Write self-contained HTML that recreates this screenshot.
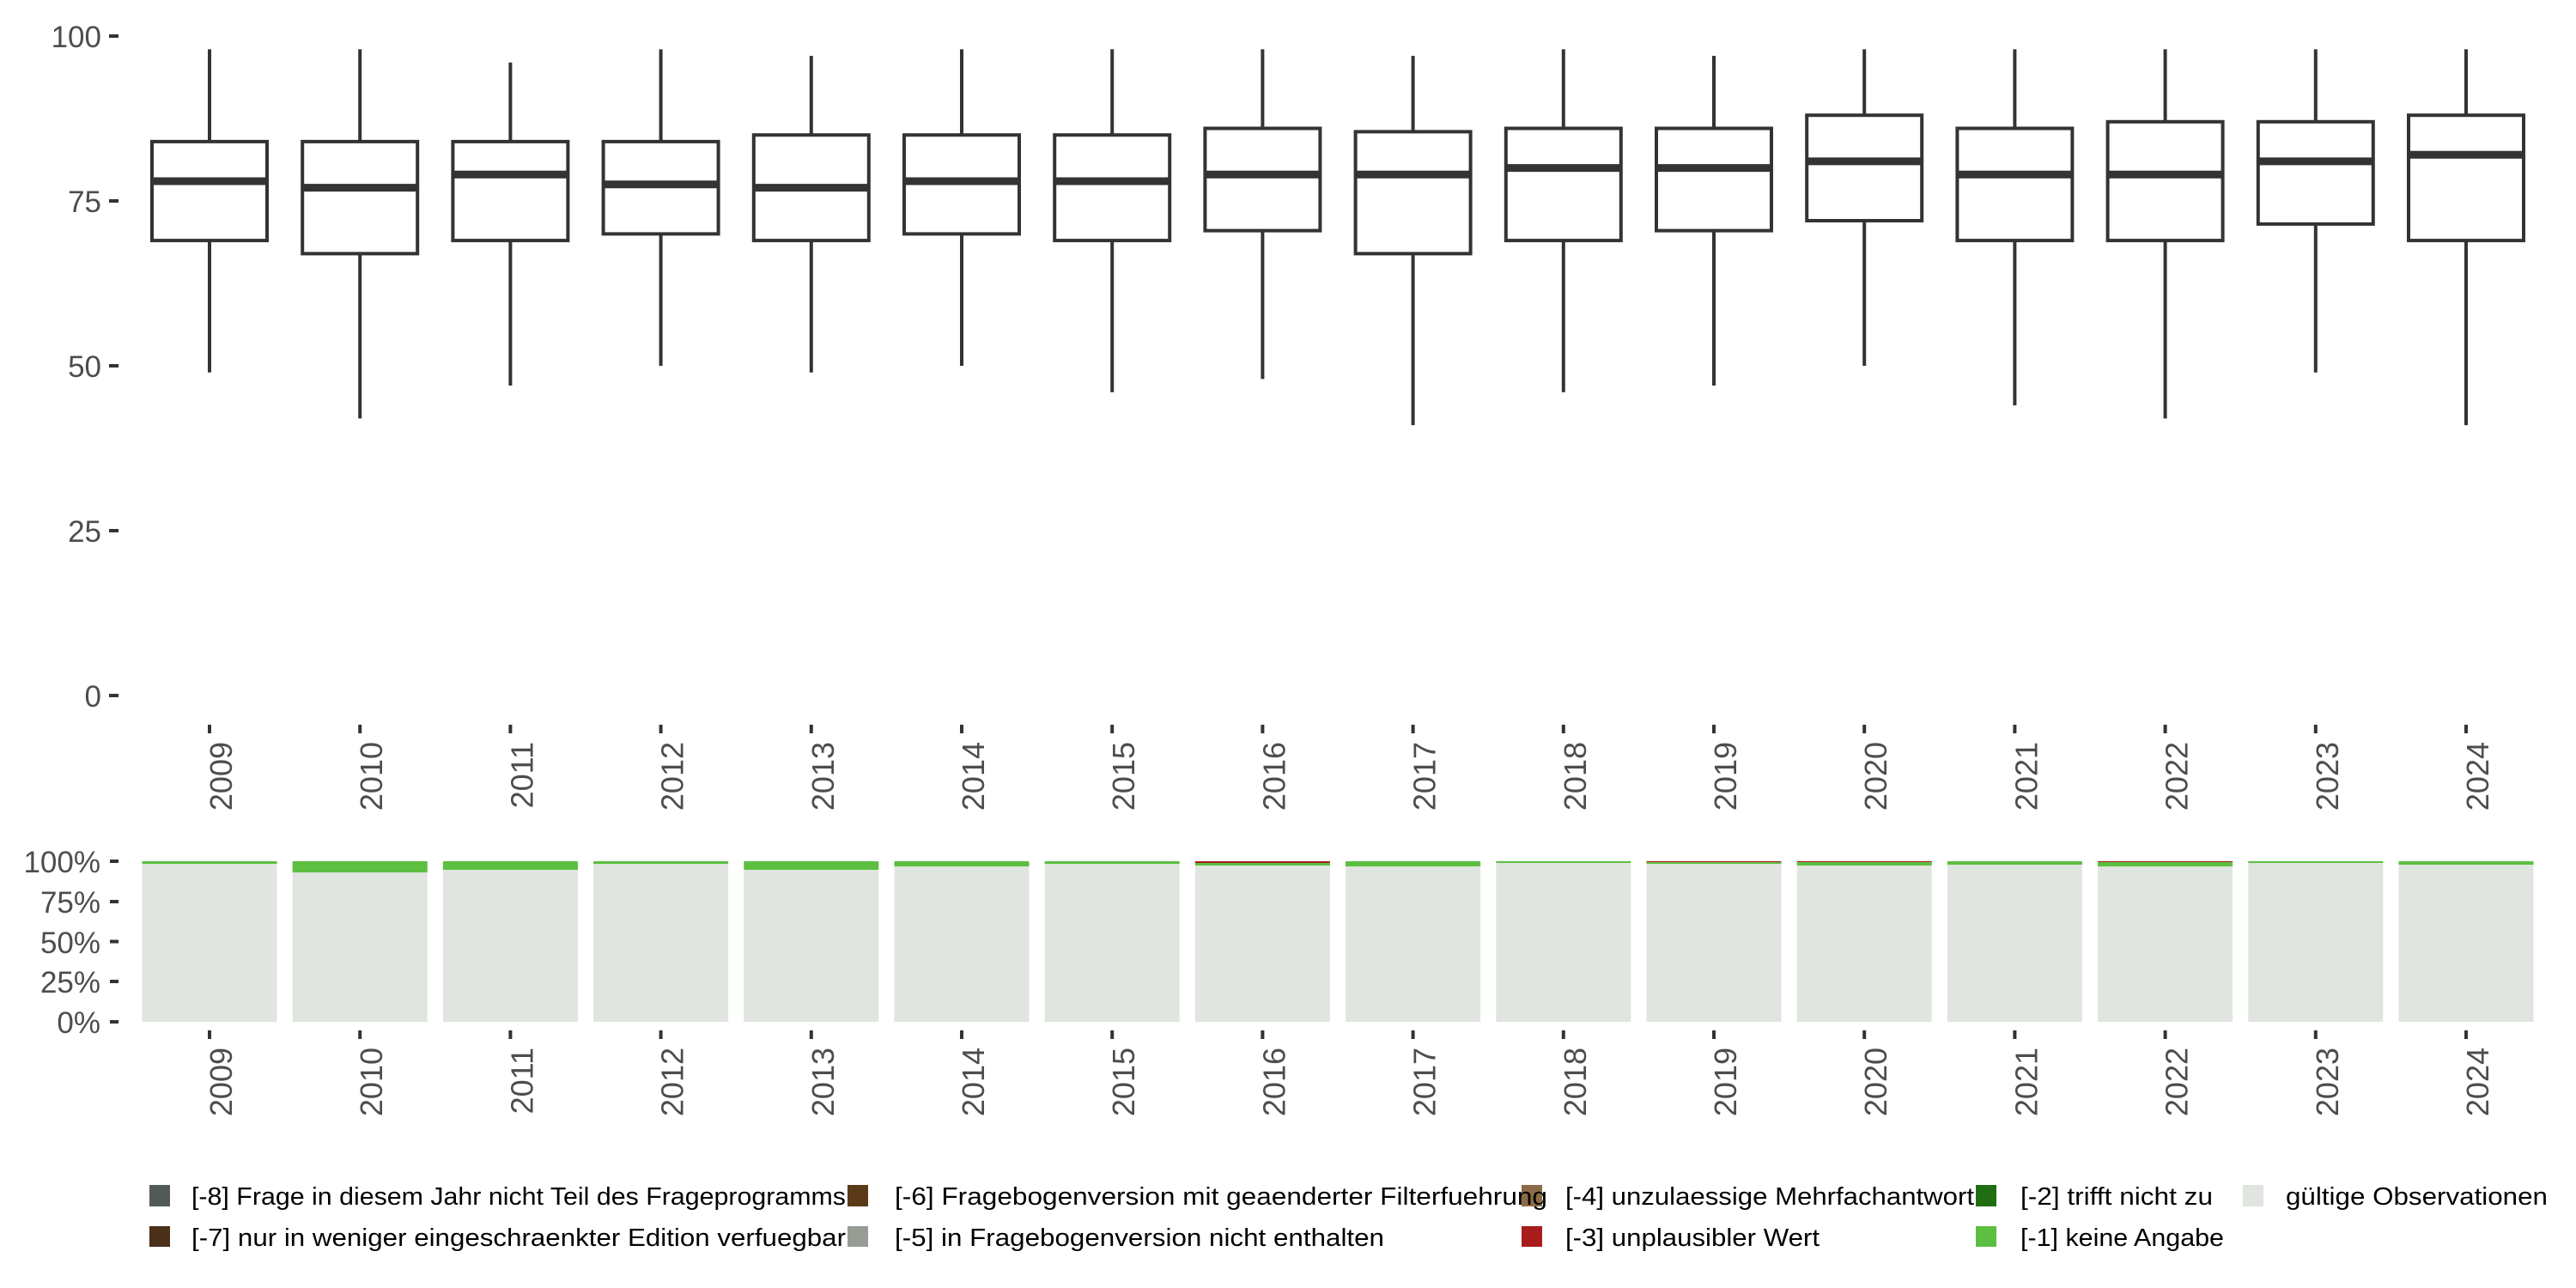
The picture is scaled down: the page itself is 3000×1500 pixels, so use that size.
<!DOCTYPE html>
<html><head><meta charset="utf-8"><style>html,body{margin:0;padding:0;background:#fff}svg{display:block}</style></head>
<body>
<svg width="3000" height="1500" viewBox="0 0 3000 1500" xmlns="http://www.w3.org/2000/svg" font-family="Liberation Sans, sans-serif">
<rect width="3000" height="1500" fill="#fff"/>
<!-- top y axis -->
<g fill="#4d4d4d" font-size="35" text-anchor="end">
<text x="118" y="55">100</text><text x="118" y="247">75</text><text x="118" y="439">50</text><text x="118" y="631">25</text><text x="118" y="823">0</text>
</g>
<g stroke="#333" stroke-width="4">
<line x1="127" x2="138" y1="42" y2="42"/><line x1="127" x2="138" y1="234" y2="234"/><line x1="127" x2="138" y1="426" y2="426"/><line x1="127" x2="138" y1="618" y2="618"/><line x1="127" x2="138" y1="810" y2="810"/>
</g>
<!-- boxes -->
<g stroke="#333" stroke-width="4" fill="#fff">
<line x1="244" x2="244" y1="57.4" y2="433.7"/><rect x="177" y="164.9" width="134" height="115.2"/><line x1="177" x2="311" y1="211" y2="211" stroke-width="9"/>
<line x1="419.2" x2="419.2" y1="57.4" y2="487.4"/><rect x="352.2" y="164.9" width="134" height="130.5"/><line x1="352.2" x2="486.2" y1="218.6" y2="218.6" stroke-width="9"/>
<line x1="594.4" x2="594.4" y1="72.7" y2="449"/><rect x="527.4" y="164.9" width="134" height="115.2"/><line x1="527.4" x2="661.4" y1="203.3" y2="203.3" stroke-width="9"/>
<line x1="769.6" x2="769.6" y1="57.4" y2="426"/><rect x="702.6" y="164.9" width="134" height="107.5"/><line x1="702.6" x2="836.6" y1="214.8" y2="214.8" stroke-width="9"/>
<line x1="944.8" x2="944.8" y1="65" y2="433.7"/><rect x="877.8" y="157.2" width="134" height="122.9"/><line x1="877.8" x2="1011.8" y1="218.6" y2="218.6" stroke-width="9"/>
<line x1="1120" x2="1120" y1="57.4" y2="426"/><rect x="1053" y="157.2" width="134" height="115.2"/><line x1="1053" x2="1187" y1="211" y2="211" stroke-width="9"/>
<line x1="1295.2" x2="1295.2" y1="57.4" y2="456.7"/><rect x="1228.2" y="157.2" width="134" height="122.9"/><line x1="1228.2" x2="1362.2" y1="211" y2="211" stroke-width="9"/>
<line x1="1470.4" x2="1470.4" y1="57.4" y2="441.4"/><rect x="1403.4" y="149.5" width="134" height="119.1"/><line x1="1403.4" x2="1537.4" y1="203.3" y2="203.3" stroke-width="9"/>
<line x1="1645.6" x2="1645.6" y1="65" y2="495.1"/><rect x="1578.6" y="153.4" width="134" height="142"/><line x1="1578.6" x2="1712.6" y1="203.3" y2="203.3" stroke-width="9"/>
<line x1="1820.8" x2="1820.8" y1="57.4" y2="456.7"/><rect x="1753.8" y="149.5" width="134" height="130.6"/><line x1="1753.8" x2="1887.8" y1="195.6" y2="195.6" stroke-width="9"/>
<line x1="1996" x2="1996" y1="65" y2="449"/><rect x="1929" y="149.5" width="134" height="119.1"/><line x1="1929" x2="2063" y1="195.6" y2="195.6" stroke-width="9"/>
<line x1="2171.2" x2="2171.2" y1="57.4" y2="426"/><rect x="2104.2" y="134.2" width="134" height="122.8"/><line x1="2104.2" x2="2238.2" y1="187.9" y2="187.9" stroke-width="9"/>
<line x1="2346.4" x2="2346.4" y1="57.4" y2="472.1"/><rect x="2279.4" y="149.5" width="134" height="130.6"/><line x1="2279.4" x2="2413.4" y1="203.3" y2="203.3" stroke-width="9"/>
<line x1="2521.6" x2="2521.6" y1="57.4" y2="487.4"/><rect x="2454.6" y="141.8" width="134" height="138.3"/><line x1="2454.6" x2="2588.6" y1="203.3" y2="203.3" stroke-width="9"/>
<line x1="2696.8" x2="2696.8" y1="57.4" y2="433.7"/><rect x="2629.8" y="141.8" width="134" height="119.1"/><line x1="2629.8" x2="2763.8" y1="187.9" y2="187.9" stroke-width="9"/>
<line x1="2872" x2="2872" y1="57.4" y2="495.1"/><rect x="2805" y="134.2" width="134" height="145.9"/><line x1="2805" x2="2939" y1="180.2" y2="180.2" stroke-width="9"/>
</g>
<!-- top x ticks -->
<g stroke="#333" stroke-width="4">
<line x1="244" x2="244" y1="844" y2="854"/><line x1="419.2" x2="419.2" y1="844" y2="854"/><line x1="594.4" x2="594.4" y1="844" y2="854"/><line x1="769.6" x2="769.6" y1="844" y2="854"/><line x1="944.8" x2="944.8" y1="844" y2="854"/><line x1="1120" x2="1120" y1="844" y2="854"/><line x1="1295.2" x2="1295.2" y1="844" y2="854"/><line x1="1470.4" x2="1470.4" y1="844" y2="854"/><line x1="1645.6" x2="1645.6" y1="844" y2="854"/><line x1="1820.8" x2="1820.8" y1="844" y2="854"/><line x1="1996" x2="1996" y1="844" y2="854"/><line x1="2171.2" x2="2171.2" y1="844" y2="854"/><line x1="2346.4" x2="2346.4" y1="844" y2="854"/><line x1="2521.6" x2="2521.6" y1="844" y2="854"/><line x1="2696.8" x2="2696.8" y1="844" y2="854"/><line x1="2872" x2="2872" y1="844" y2="854"/>
</g>
<g fill="#4d4d4d" font-size="36" text-anchor="end">
<text transform="translate(270,864) rotate(-90)">2009</text>
<text transform="translate(445.2,864) rotate(-90)">2010</text>
<text transform="translate(620.4,864) rotate(-90)">2011</text>
<text transform="translate(795.6,864) rotate(-90)">2012</text>
<text transform="translate(970.8,864) rotate(-90)">2013</text>
<text transform="translate(1146,864) rotate(-90)">2014</text>
<text transform="translate(1321.2,864) rotate(-90)">2015</text>
<text transform="translate(1496.4,864) rotate(-90)">2016</text>
<text transform="translate(1671.6,864) rotate(-90)">2017</text>
<text transform="translate(1846.8,864) rotate(-90)">2018</text>
<text transform="translate(2022,864) rotate(-90)">2019</text>
<text transform="translate(2197.2,864) rotate(-90)">2020</text>
<text transform="translate(2372.4,864) rotate(-90)">2021</text>
<text transform="translate(2547.6,864) rotate(-90)">2022</text>
<text transform="translate(2722.8,864) rotate(-90)">2023</text>
<text transform="translate(2898,864) rotate(-90)">2024</text>
</g>
<!-- bottom y axis -->
<g fill="#4d4d4d" font-size="35" text-anchor="end">
<text x="117" y="1016">100%</text><text x="117" y="1063">75%</text><text x="117" y="1110">50%</text><text x="117" y="1156">25%</text><text x="117" y="1203">0%</text>
</g>
<g stroke="#333" stroke-width="4">
<line x1="128" x2="138" y1="1003" y2="1003"/><line x1="128" x2="138" y1="1050" y2="1050"/><line x1="128" x2="138" y1="1096.5" y2="1096.5"/><line x1="128" x2="138" y1="1143" y2="1143"/><line x1="128" x2="138" y1="1190" y2="1190"/>
</g>
<!-- bars -->
<g fill="#e0e5df">
<rect x="165.5" y="1003" width="157" height="187"/><rect x="340.7" y="1003" width="157" height="187"/><rect x="515.9" y="1003" width="157" height="187"/><rect x="691.1" y="1003" width="157" height="187"/><rect x="866.3" y="1003" width="157" height="187"/><rect x="1041.5" y="1003" width="157" height="187"/><rect x="1216.7" y="1003" width="157" height="187"/><rect x="1391.9" y="1003" width="157" height="187"/><rect x="1567.1" y="1003" width="157" height="187"/><rect x="1742.3" y="1003" width="157" height="187"/><rect x="1917.5" y="1003" width="157" height="187"/><rect x="2092.7" y="1003" width="157" height="187"/><rect x="2267.9" y="1003" width="157" height="187"/><rect x="2443.1" y="1003" width="157" height="187"/><rect x="2618.3" y="1003" width="157" height="187"/><rect x="2793.5" y="1003" width="157" height="187"/>
</g>
<g fill="#5cbf41">
<rect x="165.5" y="1003" width="157" height="3"/><rect x="340.7" y="1003" width="157" height="13"/><rect x="515.9" y="1003" width="157" height="10"/><rect x="691.1" y="1003" width="157" height="3"/><rect x="866.3" y="1003" width="157" height="10"/><rect x="1041.5" y="1003" width="157" height="6"/><rect x="1216.7" y="1003" width="157" height="3"/><rect x="1391.9" y="1003" width="157" height="5"/><rect x="1567.1" y="1003" width="157" height="6"/><rect x="1742.3" y="1003" width="157" height="2"/><rect x="1917.5" y="1003" width="157" height="3"/><rect x="2092.7" y="1003" width="157" height="5"/><rect x="2267.9" y="1003" width="157" height="4"/><rect x="2443.1" y="1003" width="157" height="6"/><rect x="2618.3" y="1003" width="157" height="2"/><rect x="2793.5" y="1003" width="157" height="4"/>
</g>
<g fill="#a81c1c">
<rect x="1391.9" y="1003" width="157" height="2"/><rect x="1917.5" y="1003" width="157" height="1"/><rect x="2092.7" y="1003" width="157" height="1"/><rect x="2443.1" y="1003" width="157" height="1"/>
</g>
<g stroke="#333" stroke-width="4">
<line x1="244" x2="244" y1="1200" y2="1210"/><line x1="419.2" x2="419.2" y1="1200" y2="1210"/><line x1="594.4" x2="594.4" y1="1200" y2="1210"/><line x1="769.6" x2="769.6" y1="1200" y2="1210"/><line x1="944.8" x2="944.8" y1="1200" y2="1210"/><line x1="1120" x2="1120" y1="1200" y2="1210"/><line x1="1295.2" x2="1295.2" y1="1200" y2="1210"/><line x1="1470.4" x2="1470.4" y1="1200" y2="1210"/><line x1="1645.6" x2="1645.6" y1="1200" y2="1210"/><line x1="1820.8" x2="1820.8" y1="1200" y2="1210"/><line x1="1996" x2="1996" y1="1200" y2="1210"/><line x1="2171.2" x2="2171.2" y1="1200" y2="1210"/><line x1="2346.4" x2="2346.4" y1="1200" y2="1210"/><line x1="2521.6" x2="2521.6" y1="1200" y2="1210"/><line x1="2696.8" x2="2696.8" y1="1200" y2="1210"/><line x1="2872" x2="2872" y1="1200" y2="1210"/>
</g>
<g fill="#4d4d4d" font-size="36" text-anchor="end">
<text transform="translate(270,1220) rotate(-90)">2009</text>
<text transform="translate(445.2,1220) rotate(-90)">2010</text>
<text transform="translate(620.4,1220) rotate(-90)">2011</text>
<text transform="translate(795.6,1220) rotate(-90)">2012</text>
<text transform="translate(970.8,1220) rotate(-90)">2013</text>
<text transform="translate(1146,1220) rotate(-90)">2014</text>
<text transform="translate(1321.2,1220) rotate(-90)">2015</text>
<text transform="translate(1496.4,1220) rotate(-90)">2016</text>
<text transform="translate(1671.6,1220) rotate(-90)">2017</text>
<text transform="translate(1846.8,1220) rotate(-90)">2018</text>
<text transform="translate(2022,1220) rotate(-90)">2019</text>
<text transform="translate(2197.2,1220) rotate(-90)">2020</text>
<text transform="translate(2372.4,1220) rotate(-90)">2021</text>
<text transform="translate(2547.6,1220) rotate(-90)">2022</text>
<text transform="translate(2722.8,1220) rotate(-90)">2023</text>
<text transform="translate(2898,1220) rotate(-90)">2024</text>
</g>
<!-- legend -->
<rect x="174" y="1380" width="24" height="25" fill="#525a55"/>
<rect x="174" y="1428" width="24" height="24" fill="#4a2f19"/>
<rect x="987" y="1380" width="24" height="25" fill="#5b3a19"/>
<rect x="987" y="1428" width="24" height="24" fill="#979c95"/>
<rect x="1772" y="1380" width="24" height="25" fill="#8c6b48"/>
<rect x="1772" y="1428" width="24" height="24" fill="#a81c1c"/>
<rect x="2301" y="1380" width="24" height="25" fill="#216e12"/>
<rect x="2301" y="1428" width="24" height="24" fill="#5cbf41"/>
<rect x="2612" y="1380" width="24" height="25" fill="#e0e5df"/>
<g fill="#000" font-size="29" lengthAdjust="spacingAndGlyphs">
<text x="223" y="1403" textLength="762" lengthAdjust="spacingAndGlyphs">[-8] Frage in diesem Jahr nicht Teil des Frageprogramms</text>
<text x="223" y="1451" textLength="762" lengthAdjust="spacingAndGlyphs">[-7] nur in weniger eingeschraenkter Edition verfuegbar</text>
<text x="1042" y="1403" textLength="760" lengthAdjust="spacingAndGlyphs">[-6] Fragebogenversion mit geaenderter Filterfuehrung</text>
<text x="1042" y="1451" textLength="570" lengthAdjust="spacingAndGlyphs">[-5] in Fragebogenversion nicht enthalten</text>
<text x="1823" y="1403" textLength="476" lengthAdjust="spacingAndGlyphs">[-4] unzulaessige Mehrfachantwort</text>
<text x="1823" y="1451" textLength="296" lengthAdjust="spacingAndGlyphs">[-3] unplausibler Wert</text>
<text x="2353" y="1403" textLength="224" lengthAdjust="spacingAndGlyphs">[-2] trifft nicht zu</text>
<text x="2353" y="1451" textLength="237" lengthAdjust="spacingAndGlyphs">[-1] keine Angabe</text>
<text x="2662" y="1403" textLength="305" lengthAdjust="spacingAndGlyphs">gültige Observationen</text>
</g>
</svg>
</body></html>
